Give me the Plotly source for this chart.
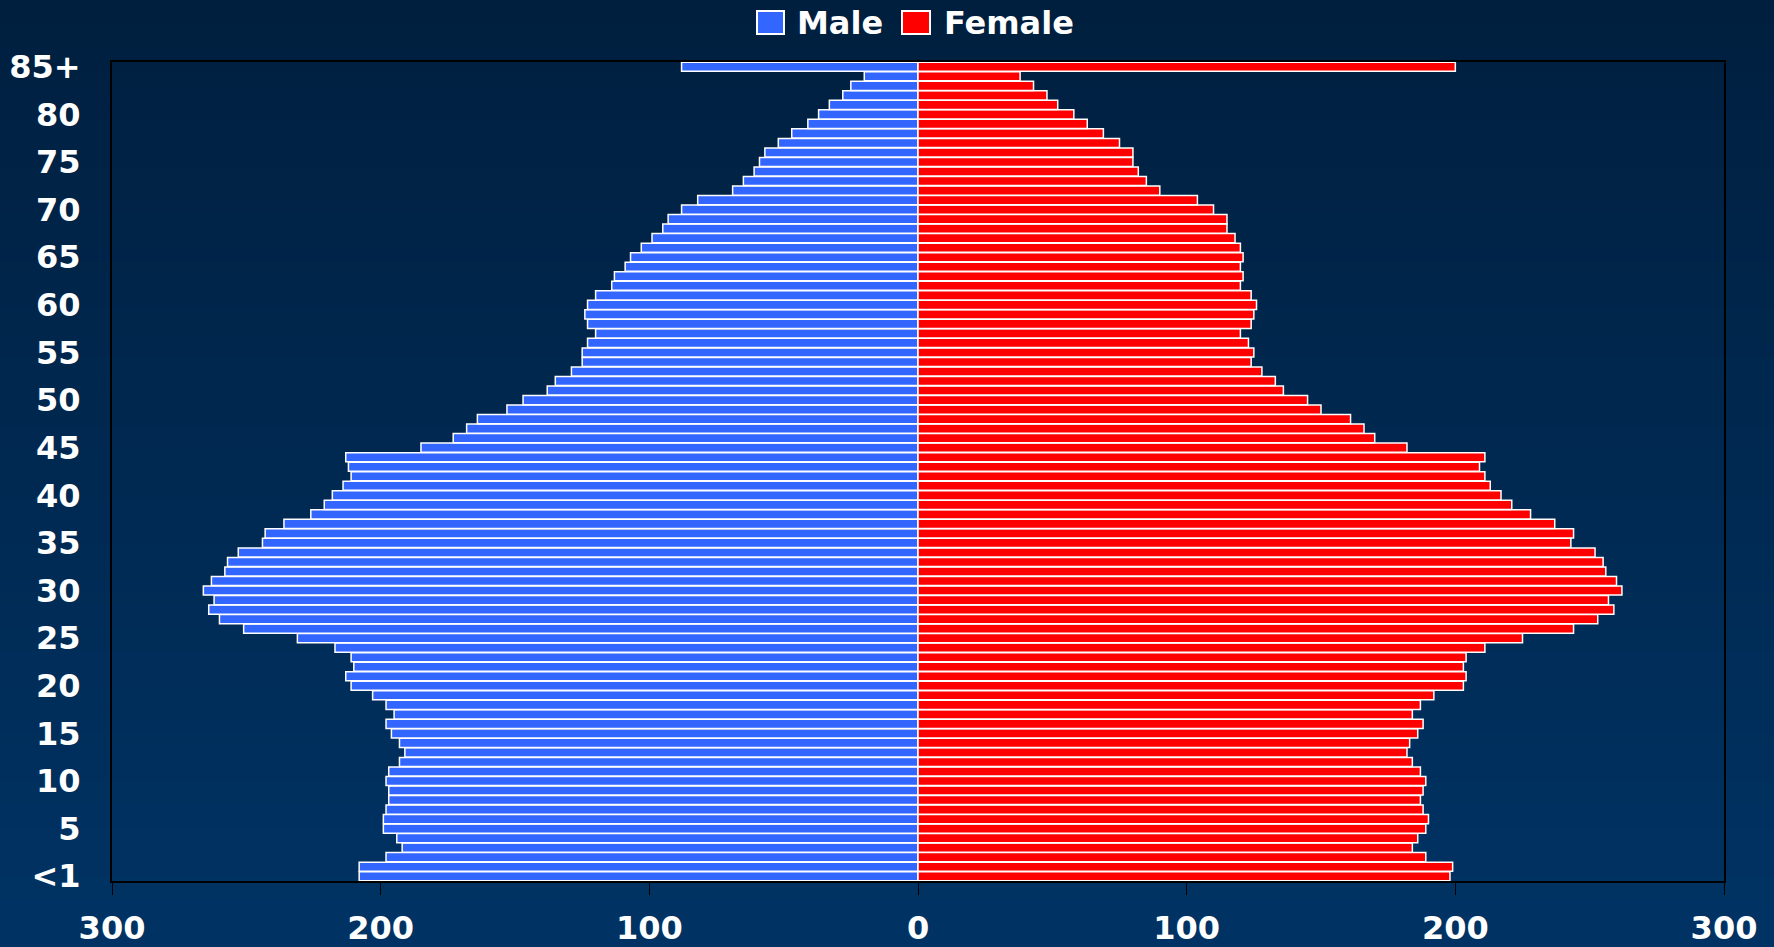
import plotly.graph_objects as go

# single-year age groups, bottom (<1) to top (85+)
ages = ["<1"] + [str(a) for a in range(1, 85)] + ["85+"]

male = [
    208, 208, 198, 192, 194, 199, 199, 198, 197, 197,
    198, 197, 193, 191, 193, 196, 198, 195, 198, 203,
    211, 213, 210, 211, 217, 231, 251, 260, 264, 262,
    266, 263, 258, 257, 253, 244, 243, 236, 226, 221,
    218, 214, 211, 212, 213, 185, 173, 168, 164, 153,
    147, 138, 135, 129, 125, 125, 123, 120, 123, 124,
    123, 120, 114, 113, 109, 107, 103, 99, 95, 93,
    88, 82, 69, 65, 61, 59, 57, 52, 47, 41,
    37, 33, 28, 25, 20, 88,
]

female = [
    198, 199, 189, 184, 186, 189, 190, 188, 187, 188,
    189, 187, 184, 182, 183, 186, 188, 184, 187, 192,
    203, 204, 203, 204, 211, 225, 244, 253, 259, 257,
    262, 260, 256, 255, 252, 243, 244, 237, 228, 221,
    217, 213, 211, 209, 211, 182, 170, 166, 161, 150,
    145, 136, 133, 128, 124, 125, 123, 120, 124, 125,
    126, 124, 120, 121, 120, 121, 120, 118, 115, 115,
    110, 104, 90, 85, 82, 80, 80, 75, 69, 63,
    58, 52, 48, 43, 38, 200,
]

age_ticks = ["<1"] + [str(a) for a in range(5, 85, 5)] + ["85+"]
x_ticks = [-300, -200, -100, 0, 100, 200, 300]
series_names = ["Male", "Female"]
series_colors = ["#3366FF", "#FF0000"]

W, H = 1774, 947
L, R, T, B = 112, 50, 62, 66
PW, PH = W - L - R, H - T - B
FONT = "DejaVu Sans"


def fx(px):
    return (px - L) / PW


def fy(py):
    return (H - B - py) / PH


fig = go.Figure()
fig.add_trace(go.Bar(
    y=ages, x=[-v for v in male], orientation="h", name=series_names[0],
    marker=dict(color=series_colors[0], line=dict(color="white", width=1.5)),
    customdata=male, hovertemplate="%{y}: %{customdata}<extra>Male</extra>",
))
fig.add_trace(go.Bar(
    y=ages, x=female, orientation="h", name=series_names[1],
    marker=dict(color=series_colors[1], line=dict(color="white", width=1.5)),
    hovertemplate="%{y}: %{x}<extra>Female</extra>",
))

# background: vertical gradient built from thin bands
shapes = []
n_bands = 80
top_rgb, bot_rgb = (0, 31, 63), (0, 51, 100)
for i in range(n_bands):
    t = i / (n_bands - 1)
    c = tuple(round(top_rgb[k] + (bot_rgb[k] - top_rgb[k]) * t) for k in range(3))
    y0 = H * i / n_bands
    y1 = H * (i + 1) / n_bands + 1
    shapes.append(dict(
        type="rect", xref="paper", yref="paper", layer="below",
        x0=fx(-2), x1=fx(W + 2), y0=fy(y1), y1=fy(y0),
        fillcolor="rgb(%d,%d,%d)" % c, line_width=0,
    ))

# legend drawn by hand so the swatches match the original size
annotations = []
legend_items = [(757, 784, 795), (902, 930, 942)]
for (sx0, sx1, tx), name, col in zip(legend_items, series_names, series_colors):
    shapes.append(dict(
        type="rect", xref="paper", yref="paper", layer="above",
        x0=fx(sx0), x1=fx(sx1), y0=fy(34), y1=fy(11),
        fillcolor=col, line=dict(color="white", width=2),
    ))
    annotations.append(dict(
        xref="paper", yref="paper", x=fx(tx), y=fy(23),
        xanchor="left", yanchor="middle", showarrow=False, text=name,
        font=dict(family=FONT, size=32, color="white", weight="bold"),
    ))

fig.update_layout(
    width=W, height=H,
    margin=dict(l=L, r=R, t=T, b=B, pad=0, autoexpand=False),
    paper_bgcolor="rgb(0,31,63)",
    plot_bgcolor="rgba(0,0,0,0)",
    barmode="relative",
    bargap=0.04,
    showlegend=False,
    shapes=shapes,
    annotations=annotations,
)
fig.update_xaxes(
    range=[-300, 300], tickmode="array", tickvals=x_ticks,
    ticktext=[str(abs(v)) for v in x_ticks],
    ticks="outside", ticklen=12, tickwidth=1, tickcolor="black",
    tickfont=dict(family=FONT, size=32, color="white", weight="bold"),
    ticklabelstandoff=6, automargin=False,
    showgrid=False, zeroline=False,
    showline=True, linecolor="black", linewidth=2, mirror=True,
    layer="below traces",
)
fig.update_yaxes(
    type="category", categoryorder="array", categoryarray=ages,
    tickmode="array", tickvals=age_ticks, ticktext=age_ticks, ticks="",
    tickfont=dict(family=FONT, size=32, color="white", weight="bold"),
    ticklabelstandoff=23, automargin=False,
    showgrid=False, zeroline=False,
    showline=True, linecolor="black", linewidth=2, mirror=True,
    layer="below traces",
)

fig.write_html(
    "out.html",
    config={"displayModeBar": False},
    post_script="document.body.style.margin='0';",
)
